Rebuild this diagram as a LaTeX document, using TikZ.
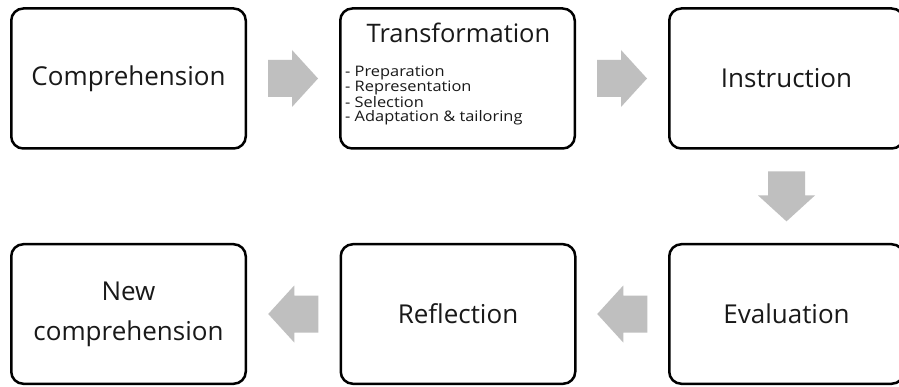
\documentclass[tikz,border=0pt]{standalone}
\usepackage{fontspec}
\setmainfont{Open Sans}
\newfontfamily\listfont[FakeStretch=1.13]{Open Sans}
\usetikzlibrary{calc}
\definecolor{arrowgray}{RGB}{191,191,191}
\definecolor{txt}{RGB}{25,25,25}
\tikzset{
  stagebox/.style={draw=black, line width=2.5pt, rounded corners=12pt,
    minimum width=234.5pt, minimum height=140pt, inner sep=0pt,
    text=txt, align=center, font=\fontsize{26}{40}\selectfont},
  blockarrow/.pic={\fill[arrowgray] (-25,-18.5) -- (-1,-18.5) -- (-1,-28.5) -- (25,0) -- (-1,28.5) -- (-1,18.5) -- (-25,18.5) -- cycle;}
}
\begin{document}
\begin{tikzpicture}[x=1pt,y=-1pt]
\useasboundingbox (0,0) rectangle (899,387);
\clip (0,0) rectangle (899,387);
\fill[white] (0,0) rectangle (899,387);
% top row
\node[stagebox] (comp) at (128.5,78.5) {Comprehension};
\node[stagebox] (trans) at (457.5,78.5) {};
\node[stagebox] (instr) at (786.5,78.5) {Instruction};
\node[text=txt, font=\fontsize{25.5}{30}\selectfont, inner sep=0pt] (transtitle) at (458.5,33) {Transformation};
\node[text=txt, font=\listfont\fontsize{14.5}{14}\selectfont, inner sep=0pt, anchor=north west, align=left] (translist) at (345,66)
  {-~Preparation\\-~Representation\\-~Selection\\-~Adaptation \& tailoring};
% bottom row
\node[stagebox, minimum height=139.5pt] (newcomp) at (128.5,314) {\raisebox{-3pt}{New}\\\raisebox{-3pt}{comprehension}};
\node[stagebox, minimum height=139.5pt] (refl) at (458,314) {Reflection};
\node[stagebox, minimum height=139.5pt] (eval) at (786.5,314) {\raisebox{-2pt}{Evaluation}};
% block arrows
\pic at ($(comp.east)!0.5!(trans.west)$) {blockarrow};
\pic at ($(trans.east)!0.5!(instr.west)$) {blockarrow};
\pic[rotate=-90] at ($(instr.south)!0.5!(eval.north)$) {blockarrow};
\pic[rotate=180] at ($(eval.west)!0.5!(refl.east)$) {blockarrow};
\pic[rotate=180] at ($(refl.west)!0.5!(newcomp.east)$) {blockarrow};
\end{tikzpicture}
\end{document}
